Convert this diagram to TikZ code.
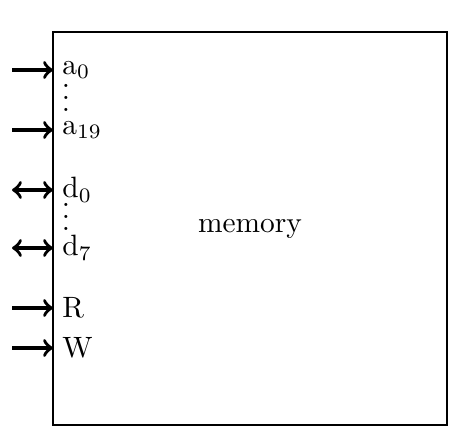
\documentclass[tikz,border=0pt]{standalone}
\usepackage{amsmath}
\usetikzlibrary{arrows.meta, positioning}
\tikzset{
  %% -- memory block --
  mem/box/.style={draw, thick, minimum width=134pt, minimum height=133.6pt,
    inner sep=0pt},
  %% -- pin label --
  mem/lbl/.style={anchor=west, inner sep=3pt},
  %% -- input pin arrow --
  mem/in/.style={-to, very thick},
  %% -- bidirectional pin arrow --
  mem/io/.style={to-to, very thick},
}
\begin{document}
\begin{tikzpicture}[x=0.34pt, y=0.34pt]
\useasboundingbox (0,0) rectangle (461,446);

%% -- the block --
\node[mem/box] (mem) at (250,217.5) {memory};

%% -- pin labels --
\node[mem/lbl] (a0)  at (53,376) {a$_0$};
\node[mem/lbl] (a19) at (53,316) {a$_{19}$};
\node[mem/lbl] (d0)  at (53,256) {d$_0$};
\node[mem/lbl] (d7)  at (53,198) {d$_7$};
\node[mem/lbl] (rd)  at (53,138) {R};
\node[mem/lbl] (wr)  at (53,98)  {W};

%% -- dots --
\node (adots) at (66,357) {$\vdots$};
\node (ddots) at (66,238) {$\vdots$};

%% -- pin arrows --
\coordinate (a0in)  at (12,376);
\coordinate (a19in) at (12,316);
\coordinate (d0in)  at (12,256);
\coordinate (d7in)  at (12,198);
\coordinate (rdin)  at (12,138);
\coordinate (wrin)  at (12,98);
\draw[mem/in] (a0in)  -- (a0.west);
\draw[mem/in] (a19in) -- (a19.west);
\draw[mem/io] (d0in)  -- (d0.west);
\draw[mem/io] (d7in)  -- (d7.west);
\draw[mem/in] (rdin)  -- (rd.west);
\draw[mem/in] (wrin)  -- (wr.west);

\end{tikzpicture}
\end{document}
